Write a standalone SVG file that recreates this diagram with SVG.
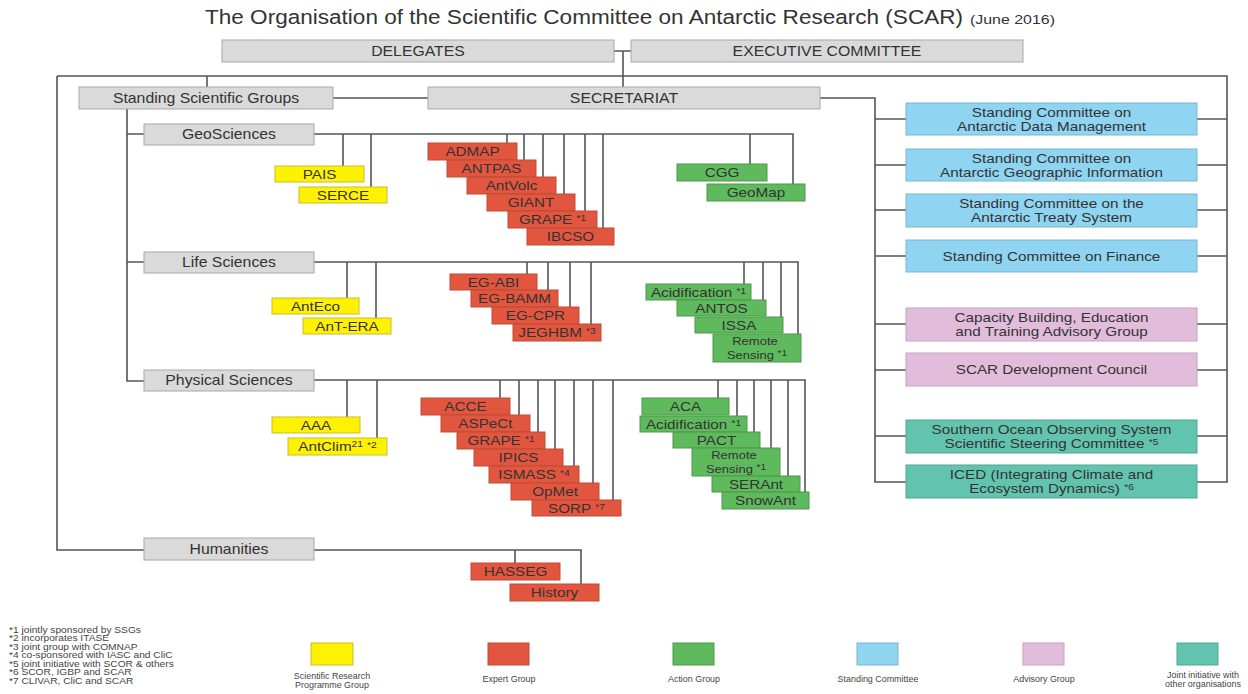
<svg xmlns="http://www.w3.org/2000/svg" width="1248" height="694" viewBox="0 0 1248 694">
<style>
text{font-family:"Liberation Sans",Arial,sans-serif;fill:#333;}
.t,.g,.s,.r,.lg{text-anchor:middle;transform-box:fill-box;transform-origin:center;transform:scaleX(1.13);}
.t{font-size:13.5px;}
.g{font-size:14px;}
.s{font-size:13.5px;}
.r{font-size:11.5px;}
.sup{font-size:9px;}
.gray{fill:#dadada;stroke:#a8a8a8;stroke-width:1;}
.yel{fill:#fff200;stroke:#c9bc2a;stroke-width:1;}
.red{fill:#e2563f;stroke:#c04a37;stroke-width:1;}
.grn{fill:#5fb95d;stroke:#4f9a4d;stroke-width:1;}
.blu{fill:#8fd4f1;stroke:#78b8d3;stroke-width:1;}
.pnk{fill:#e2bcdb;stroke:#c7a2c0;stroke-width:1;}
.tea{fill:#62c4ae;stroke:#51a693;stroke-width:1;}
.c{fill:none;stroke:#555;stroke-width:1.6;}
.fn{font-size:8.5px;fill:#444;transform-box:fill-box;transform-origin:left center;transform:scaleX(1.2);}
.lg{font-size:8.5px;fill:#444;transform:scaleX(1.05);}
</style>
<rect width="1248" height="694" fill="#fff"/>
<text x="205" y="24" font-size="19.5" textLength="758" lengthAdjust="spacingAndGlyphs">The Organisation of the Scientific Committee on Antarctic Research (SCAR)</text>
<text x="970" y="24" font-size="13" textLength="85" lengthAdjust="spacingAndGlyphs">(June 2016)</text>

<g id="connectors" class="c">
<path d="M614 51H631M623 51V87"/>
<path d="M57 76H1227V482H1197"/>
<path d="M207 76V87"/>
<path d="M57 76V550H144"/>
<path d="M333 98H428"/>
<path d="M820 98H875V482H906"/>
<path d="M875 119H906M875 165H906M875 210H906M875 256H906M875 324H906M875 370H906M875 436H906"/>
<path d="M1197 119H1227M1197 165H1227M1197 210H1227M1197 256H1227M1197 324H1227M1197 370H1227M1197 436H1227"/>
<path d="M127 109V381H144M127 134H144M127 262H144"/>
<path d="M314 134H793V184M343 134V166M371 134V187M507 134V143M524 134V160M543 134V177M564 134V194M585 134V211M603 134V228M750 134V164"/>
<path d="M314 262H798V334M347 262V298M376 262V318M527 262V274M548 262V290M570 262V307M591 262V324M744 262V284M763 262V300M781 262V317"/>
<path d="M314 380H805V492M347 380V417M377 380V438M500 380V398M519 380V415M538 380V432M555 380V449M574 380V466M593 380V483M613 380V500M718 380V398M737 380V416M754 380V432M771 380V448M788 380V476"/>
<path d="M314 550H581V584M515 550V563"/>
</g>

<g id="delegates"><rect class="gray" x="222" y="40" width="392" height="22"/><text class="g" x="418" y="56">DELEGATES</text></g>
<g id="executive"><rect class="gray" x="631" y="40" width="392" height="22"/><text class="g" x="827" y="56">EXECUTIVE COMMITTEE</text></g>
<g id="ssg"><rect class="gray" x="79" y="87" width="254" height="22"/><text class="g" x="206" y="103">Standing Scientific Groups</text></g>
<g id="secretariat"><rect class="gray" x="428" y="87" width="392" height="22"/><text class="g" x="624" y="103">SECRETARIAT</text></g>
<g id="geosciences"><rect class="gray" x="144" y="124" width="170" height="21"/><text class="g" x="229" y="139.5">GeoSciences</text></g>
<g id="lifesciences"><rect class="gray" x="144" y="252" width="170" height="21"/><text class="g" x="229" y="267.5">Life Sciences</text></g>
<g id="physicalsciences"><rect class="gray" x="144" y="370" width="170" height="21"/><text class="g" x="229" y="385.5">Physical Sciences</text></g>
<g id="humanities"><rect class="gray" x="144" y="538" width="170" height="22"/><text class="g" x="229" y="554">Humanities</text></g>

<g id="pais"><rect class="yel" x="275" y="166" width="89" height="16"/><text class="t" x="319.5" y="179">PAIS</text></g>
<g id="serce"><rect class="yel" x="299" y="187" width="88" height="16"/><text class="t" x="343" y="200">SERCE</text></g>
<g id="admap"><rect class="red" x="428" y="143" width="89" height="17"/><text class="t" x="472.5" y="156.5">ADMAP</text></g>
<g id="antpas"><rect class="red" x="447" y="160" width="89" height="17"/><text class="t" x="491.5" y="173.5">ANTPAS</text></g>
<g id="antvolc"><rect class="red" x="467" y="177" width="89" height="17"/><text class="t" x="511.5" y="190.5">AntVolc</text></g>
<g id="giant"><rect class="red" x="487" y="194" width="88" height="17"/><text class="t" x="531" y="207.5">GIANT</text></g>
<g id="grape-geo"><rect class="red" x="508" y="211" width="89" height="17"/><text class="t" x="552.5" y="224.5">GRAPE <tspan class="sup" dy="-3">*1</tspan></text></g>
<g id="ibcso"><rect class="red" x="527" y="228" width="87" height="17"/><text class="t" x="570.5" y="241.5">IBCSO</text></g>
<g id="cgg"><rect class="grn" x="677" y="164" width="90" height="17"/><text class="t" x="722" y="177.5">CGG</text></g>
<g id="geomap"><rect class="grn" x="707" y="184" width="98" height="17"/><text class="t" x="756" y="197.5">GeoMap</text></g>

<g id="anteco"><rect class="yel" x="272" y="298" width="87" height="16"/><text class="t" x="315.5" y="311">AntEco</text></g>
<g id="antera"><rect class="yel" x="303" y="318" width="88" height="16"/><text class="t" x="347" y="331">AnT-ERA</text></g>
<g id="egabi"><rect class="red" x="450" y="274" width="87" height="16"/><text class="t" x="493.5" y="287">EG-ABI</text></g>
<g id="egbamm"><rect class="red" x="471" y="290" width="87" height="17"/><text class="t" x="514.5" y="303.5">EG-BAMM</text></g>
<g id="egcpr"><rect class="red" x="492" y="307" width="87" height="17"/><text class="t" x="535.5" y="320.5">EG-CPR</text></g>
<g id="jeghbm"><rect class="red" x="513" y="324" width="88" height="17"/><text class="t" x="557" y="337.5">JEGHBM <tspan class="sup" dy="-3">*3</tspan></text></g>
<g id="acid-life"><rect class="grn" x="646" y="284" width="105" height="16"/><text class="t" x="698.5" y="297">Acidification <tspan class="sup" dy="-3">*1</tspan></text></g>
<g id="antos"><rect class="grn" x="677" y="300" width="89" height="16"/><text class="t" x="721.5" y="313">ANTOS</text></g>
<g id="issa"><rect class="grn" x="695" y="317" width="88" height="16"/><text class="t" x="739" y="330">ISSA</text></g>
<g id="rs-life"><rect class="grn" x="713" y="334" width="88" height="28"/><text class="r" x="755" y="345.5">Remote</text><text class="r" x="757" y="359">Sensing <tspan class="sup" dy="-3">*1</tspan></text></g>

<g id="aaa"><rect class="yel" x="272" y="417" width="88" height="16"/><text class="t" x="316" y="430">AAA</text></g>
<g id="antclim"><rect class="yel" x="288" y="438" width="99" height="17"/><text class="t" x="337.5" y="451.5">AntClim<tspan class="sup" dy="-4">21</tspan><tspan dy="4"> </tspan><tspan class="sup" dy="-3">*2</tspan></text></g>
<g id="acce"><rect class="red" x="421" y="398" width="89" height="17"/><text class="t" x="465.5" y="411.5">ACCE</text></g>
<g id="aspect"><rect class="red" x="441" y="415" width="89" height="17"/><text class="t" x="485.5" y="428.5">ASPeCt</text></g>
<g id="grape-phys"><rect class="red" x="457" y="432" width="88" height="17"/><text class="t" x="501" y="445.5">GRAPE <tspan class="sup" dy="-3">*1</tspan></text></g>
<g id="ipics"><rect class="red" x="474" y="449" width="89" height="17"/><text class="t" x="518.5" y="462.5">IPICS</text></g>
<g id="ismass"><rect class="red" x="489" y="466" width="90" height="17"/><text class="t" x="534" y="479.5">ISMASS <tspan class="sup" dy="-3">*4</tspan></text></g>
<g id="opmet"><rect class="red" x="511" y="483" width="88" height="17"/><text class="t" x="555" y="496.5">OpMet</text></g>
<g id="sorp"><rect class="red" x="532" y="500" width="89" height="16"/><text class="t" x="576.5" y="513">SORP <tspan class="sup" dy="-3">*7</tspan></text></g>
<g id="aca"><rect class="grn" x="642" y="398" width="87" height="17"/><text class="t" x="685.5" y="411.5">ACA</text></g>
<g id="acid-phys"><rect class="grn" x="640" y="416" width="107" height="16"/><text class="t" x="693.5" y="429">Acidification <tspan class="sup" dy="-3">*1</tspan></text></g>
<g id="pact"><rect class="grn" x="673" y="432" width="87" height="16"/><text class="t" x="716.5" y="445">PACT</text></g>
<g id="rs-phys"><rect class="grn" x="692" y="448" width="88" height="28"/><text class="r" x="734" y="459.5">Remote</text><text class="r" x="736" y="473">Sensing <tspan class="sup" dy="-3">*1</tspan></text></g>
<g id="serant"><rect class="grn" x="712" y="476" width="88" height="16"/><text class="t" x="756" y="489">SERAnt</text></g>
<g id="snowant"><rect class="grn" x="722" y="492" width="87" height="17"/><text class="t" x="765.5" y="505.5">SnowAnt</text></g>

<g id="hasseg"><rect class="red" x="471" y="563" width="89" height="17"/><text class="t" x="515.5" y="576.5">HASSEG</text></g>
<g id="history"><rect class="red" x="510" y="584" width="89" height="17"/><text class="t" x="554.5" y="597.5">History</text></g>

<g id="scadm"><rect class="blu" x="906" y="103" width="291" height="32"/><text class="s" x="1051.5" y="117">Standing Committee on</text><text class="s" x="1051.5" y="131">Antarctic Data Management</text></g>
<g id="scagi"><rect class="blu" x="906" y="149" width="291" height="32"/><text class="s" x="1051.5" y="163">Standing Committee on</text><text class="s" x="1051.5" y="177">Antarctic Geographic Information</text></g>
<g id="scats"><rect class="blu" x="906" y="194" width="291" height="33"/><text class="s" x="1051.5" y="208">Standing Committee on the</text><text class="s" x="1051.5" y="222">Antarctic Treaty System</text></g>
<g id="finance"><rect class="blu" x="906" y="240" width="291" height="32"/><text class="s" x="1051.5" y="261">Standing Committee on Finance</text></g>
<g id="cbetag"><rect class="pnk" x="906" y="308" width="291" height="33"/><text class="s" x="1051.5" y="322">Capacity Building, Education</text><text class="s" x="1051.5" y="336">and Training Advisory Group</text></g>
<g id="sdc"><rect class="pnk" x="906" y="353" width="291" height="33"/><text class="s" x="1051.5" y="374.5">SCAR Development Council</text></g>
<g id="soos"><rect class="tea" x="906" y="420" width="291" height="33"/><text class="s" x="1051.5" y="434">Southern Ocean Observing System</text><text class="s" x="1051.5" y="448">Scientific Steering Committee <tspan class="sup" dy="-3">*5</tspan></text></g>
<g id="iced"><rect class="tea" x="906" y="465" width="291" height="33"/><text class="s" x="1051.5" y="479">ICED (Integrating Climate and</text><text class="s" x="1051.5" y="493">Ecosystem Dynamics) <tspan class="sup" dy="-3">*6</tspan></text></g>

<g id="footnotes">
<text class="fn" x="9" y="633">*1 jointly sponsored by SSGs</text>
<text class="fn" x="9" y="641.5">*2 incorporates ITASE</text>
<text class="fn" x="9" y="650">*3 joint group with COMNAP</text>
<text class="fn" x="9" y="658.5">*4 co-sponsored with IASC and CliC</text>
<text class="fn" x="9" y="667">*5 joint initiative with SCOR &amp; others</text>
<text class="fn" x="9" y="675.5">*6 SCOR, IGBP and SCAR</text>
<text class="fn" x="9" y="684">*7 CLIVAR, CliC and SCAR</text>
</g>
<g id="legend">
<rect class="yel" x="311" y="643" width="42" height="22"/><text class="lg" x="332" y="679">Scientific Research</text><text class="lg" x="332" y="688.5">Programme Group</text>
<rect class="red" x="488" y="643" width="41" height="22"/><text class="lg" x="509" y="682">Expert Group</text>
<rect class="grn" x="673" y="643" width="41" height="22"/><text class="lg" x="694" y="682">Action Group</text>
<rect class="blu" x="857" y="643" width="41" height="22"/><text class="lg" x="878" y="682">Standing Committee</text>
<rect class="pnk" x="1023" y="643" width="41" height="22"/><text class="lg" x="1044" y="682">Advisory Group</text>
<rect class="tea" x="1177" y="643" width="41" height="22"/><text class="lg" x="1203" y="678">Joint initiative with</text><text class="lg" x="1203" y="687.5">other organisations</text>
</g>
</svg>
